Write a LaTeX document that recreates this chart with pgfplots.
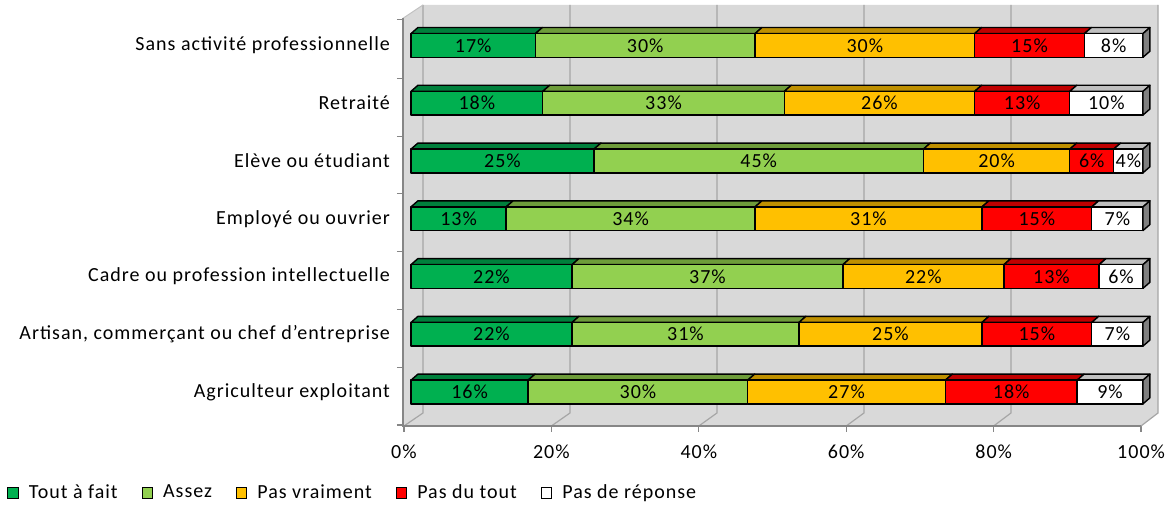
\documentclass[border=0pt]{standalone}
\usepackage{pgfplots}
\pgfplotsset{compat=1.18}
\usepackage{fontspec}
\setmainfont{Carlito}[LetterSpace=5]
\definecolor{cA}{HTML}{00B050}\definecolor{cAt}{HTML}{00803C}
\definecolor{cB}{HTML}{92D050}\definecolor{cBt}{HTML}{6E9C3A}
\definecolor{cC}{HTML}{FFC000}\definecolor{cCt}{HTML}{BF9000}
\definecolor{cD}{HTML}{FF0000}\definecolor{cDt}{HTML}{C00000}
\definecolor{cE}{HTML}{FFFFFF}\definecolor{cEt}{HTML}{C0C0C0}
\definecolor{cEr}{HTML}{808080}
\definecolor{wall}{HTML}{D9D9D9}
\definecolor{gridc}{HTML}{A6A6A6}
\definecolor{axc}{HTML}{868686}
% segment: front colour, top colour, start, end, row, label
\newcommand{\seg}[6]{%
  \pgfmathsetmacro{\yl}{#5-0.205}%
  \pgfmathsetmacro{\yh}{#5+0.205}%
  \pgfmathsetmacro{\yt}{#5+0.31}%
  \pgfmathsetmacro{\xa}{#3+0.95}%
  \pgfmathsetmacro{\xb}{#4+0.95}%
  \pgfmathsetmacro{\xm}{(#3+#4)/2}%
  \addplot[forget plot, fill=#2, draw=black, line width=0.7pt, line join=round] coordinates {(#3,\yh) (#4,\yh) (\xb,\yt) (\xa,\yt)} -- cycle;
  \addplot[forget plot, fill=#1, draw=black, line width=0.7pt, line join=round] coordinates {(#3,\yl) (#4,\yl) (#4,\yh) (#3,\yh)} -- cycle;
  \addplot[forget plot, draw=none, mark=none, point meta=explicit symbolic, nodes near coords] coordinates {(\xm,#5) [#6]};
}
\newcommand{\rside}[1]{%
  \pgfmathsetmacro{\yl}{#1-0.205}%
  \pgfmathsetmacro{\yh}{#1+0.205}%
  \pgfmathsetmacro{\yt}{#1+0.31}%
  \pgfmathsetmacro{\ylt}{#1-0.1}%
  \addplot[forget plot, fill=cEr, draw=black, line width=0.7pt, line join=round] coordinates {(100,\yl) (100,\yh) (100.95,\yt) (100.95,\ylt)} -- cycle;
}
\begin{document}
\begin{tikzpicture}
\useasboundingbox (0,0) rectangle (584.5pt,254pt);
\begin{axis}[
  at={(201.5pt,41pt)}, anchor=south west,
  scale only axis, width=377.5pt, height=210.5pt,
  xmin=-1.09, xmax=102.05, ymin=0.412, ymax=7.70,
  axis line style={draw=none},
  tick align=outside, major tick length=3pt, minor tick length=3pt,
  tick style={axc, line width=0.6pt},
  xtick pos=bottom, ytick pos=left,
  xtick={-0.96,19.18,39.32,59.46,79.60,99.74},
  xticklabels={0\%,20\%,40\%,60\%,80\%,100\%},
  xticklabel style={yshift=-3pt},
  ytick={1,...,7},
  yticklabels={Agriculteur exploitant,{Artisan, commerçant ou chef d'entreprise},Cadre ou profession intellectuelle,Employé ou ouvrier,Elève ou étudiant,Retraité,Sans activité professionnelle},
  every major y tick/.append style={draw=none},
  minor ytick={0.43,1.43,2.43,3.43,4.43,5.43,6.43,7.45},
  every node near coord/.style={anchor=center, text=black, font=\normalsize},
  clip=false,
  legend columns=5,
  legend image code/.code={\draw[#1, line width=0.5pt] (0pt,-2.6pt) rectangle (5.2pt,2.6pt);},
  legend style={at={(axis description cs:0,0)}, anchor=west, xshift=-198pt, yshift=-33.5pt,
    draw=none, fill=none, inner sep=0pt,
    /tikz/every odd column/.append style={column sep=3pt},
    /tikz/every even column/.append style={column sep=10pt},
    nodes={inner xsep=2pt}},
]
% walls
\addplot[forget plot, fill=wall, draw=none] coordinates {(-1.09,7.47) (1.64,7.70) (102.05,7.70) (102.05,0.637) (99.73,0.412) (-1.09,0.412)} -- cycle;
% grid on the back wall and floor
\addplot[forget plot, gridc, line width=0.6pt] coordinates {(1.64,7.70) (1.64,0.637) (-0.96,0.412)};
\addplot[forget plot, gridc, line width=0.6pt] coordinates {(21.72,7.70) (21.72,0.637) (19.18,0.412)};
\addplot[forget plot, gridc, line width=0.6pt] coordinates {(41.80,7.70) (41.80,0.637) (39.32,0.412)};
\addplot[forget plot, gridc, line width=0.6pt] coordinates {(61.88,7.70) (61.88,0.637) (59.46,0.412)};
\addplot[forget plot, gridc, line width=0.6pt] coordinates {(81.96,7.70) (81.96,0.637) (79.60,0.412)};
\addplot[forget plot, gridc, line width=0.6pt] coordinates {(102.05,7.70) (102.05,0.637) (99.73,0.412)};
\addplot[forget plot, gridc!70, line width=0.5pt] coordinates {(-1.09,7.47) (1.64,7.70)};
% front axis lines
\addplot[forget plot, axc, line width=0.7pt] coordinates {(-1.09,7.47) (-1.09,0.412) (99.73,0.412)};
% bars (rows from top)
\seg{cA}{cAt}{0}{17}{7}{17\%}\seg{cB}{cBt}{17}{47}{7}{30\%}\seg{cC}{cCt}{47}{77}{7}{30\%}\seg{cD}{cDt}{77}{92}{7}{15\%}\seg{cE}{cEt}{92}{100}{7}{8\%}\rside{7}
\seg{cA}{cAt}{0}{18}{6}{18\%}\seg{cB}{cBt}{18}{51}{6}{33\%}\seg{cC}{cCt}{51}{77}{6}{26\%}\seg{cD}{cDt}{77}{90}{6}{13\%}\seg{cE}{cEt}{90}{100}{6}{10\%}\rside{6}
\seg{cA}{cAt}{0}{25}{5}{25\%}\seg{cB}{cBt}{25}{70}{5}{45\%}\seg{cC}{cCt}{70}{90}{5}{20\%}\seg{cD}{cDt}{90}{96}{5}{6\%}\seg{cE}{cEt}{96}{100}{5}{4\%}\rside{5}
\seg{cA}{cAt}{0}{13}{4}{13\%}\seg{cB}{cBt}{13}{47}{4}{34\%}\seg{cC}{cCt}{47}{78}{4}{31\%}\seg{cD}{cDt}{78}{93}{4}{15\%}\seg{cE}{cEt}{93}{100}{4}{7\%}\rside{4}
\seg{cA}{cAt}{0}{22}{3}{22\%}\seg{cB}{cBt}{22}{59}{3}{37\%}\seg{cC}{cCt}{59}{81}{3}{22\%}\seg{cD}{cDt}{81}{94}{3}{13\%}\seg{cE}{cEt}{94}{100}{3}{6\%}\rside{3}
\seg{cA}{cAt}{0}{22}{2}{22\%}\seg{cB}{cBt}{22}{53}{2}{31\%}\seg{cC}{cCt}{53}{78}{2}{25\%}\seg{cD}{cDt}{78}{93}{2}{15\%}\seg{cE}{cEt}{93}{100}{2}{7\%}\rside{2}
\seg{cA}{cAt}{0}{16}{1}{16\%}\seg{cB}{cBt}{16}{46}{1}{30\%}\seg{cC}{cCt}{46}{73}{1}{27\%}\seg{cD}{cDt}{73}{91}{1}{18\%}\seg{cE}{cEt}{91}{100}{1}{9\%}\rside{1}
% legend
\addlegendimage{fill=cA, draw=black}\addlegendentry{Tout à fait}
\addlegendimage{fill=cB, draw=black}\addlegendentry{Assez}
\addlegendimage{fill=cC, draw=black}\addlegendentry{Pas vraiment}
\addlegendimage{fill=cD, draw=black}\addlegendentry{Pas du tout}
\addlegendimage{fill=cE, draw=black}\addlegendentry{Pas de réponse}
\end{axis}
\end{tikzpicture}
\end{document}
